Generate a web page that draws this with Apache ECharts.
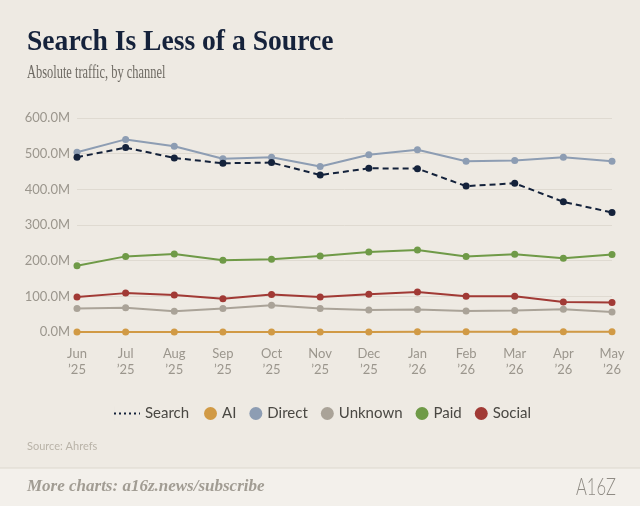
<!DOCTYPE html>
<html>
<head>
<meta charset="utf-8">
<script src="https://cdn.jsdelivr.net/npm/echarts@6/dist/echarts.min.js"></script>
<style>
    html, body { margin: 0; padding: 0; background: #eeeae3; }
    #chart { width: 640px; height: 506px; }
</style>
</head>
<body>
<div id="chart"></div>
<script>
var months = ['Jun\n\u201925', 'Jul\n\u201925', 'Aug\n\u201925', 'Sep\n\u201925', 'Oct\n\u201925', 'Nov\n\u201925',
    'Dec\n\u201925', 'Jan\n\u201926', 'Feb\n\u201926', 'Mar\n\u201926', 'Apr\n\u201926', 'May\n\u201926'];
var searchData = [490, 517, 488, 473, 475, 440, 459, 458, 409, 417, 365, 335];
var aiData = [0.3, 0.3, 0.3, 0.3, 0.3, 0.3, 0.3, 0.4, 0.4, 0.4, 0.5, 0.5];
var directData = [504, 540, 521, 486, 490, 464, 497, 511, 479, 481, 490, 479];
var unknownData = [66, 68, 58, 66, 75, 66, 62, 63, 59, 60, 64, 56];
var paidData = [186, 212, 219, 201, 204, 213, 224, 230, 212, 218, 207, 217];
var socialData = [98, 109, 104, 93, 105, 98, 106, 112, 100, 100, 84, 83];

var colors = {
    Search: '#14223b',
    AI: '#d19a45',
    Direct: '#8d9db3',
    Unknown: '#aaa398',
    Paid: '#6f9a47',
    Social: '#a13a35'
};

var sansFont = 'Lato, "Open Sans", sans-serif';
var serifFont = '"Liberation Serif", "DejaVu Serif", serif';

var lineSeries = function(name, data, dashed) {
    return {
        name: name,
        type: 'line',
        data: data,
        symbol: 'circle',
        symbolSize: 7,
        z: dashed ? 5 : 3,
        lineStyle: {
            color: colors[name],
            width: 2,
            type: dashed ? [6, 4] : 'solid'
        },
        itemStyle: { color: colors[name] }
    };
};

var chart = echarts.init(document.getElementById('chart'));
var option = {
    backgroundColor: '#eeeae3',
    animation: false,
    grid: {
        left: 77,
        right: 28,
        top: 118,
        bottom: 174
    },
    legend: [{
        left: 109,
        top: 401,
        itemWidth: 26,
        itemHeight: 14,
        textStyle: { color: '#4a4843', fontSize: 15, fontFamily: sansFont },
        data: [{
            name: 'Search',
            icon: 'path://M0,6h2v2h-2z M5,6h2v2h-2z M10,6h2v2h-2z M15,6h2v2h-2z M20,6h2v2h-2z M25,6h1v2h-1z M0,0h0.01v14h-0.01z'
        }],
        itemStyle: { color: colors.Search }
    }, {
        left: 199,
        top: 401,
        itemWidth: 13,
        itemHeight: 13,
        itemGap: 13,
        icon: 'circle',
        textStyle: { color: '#4a4843', fontSize: 15, fontFamily: sansFont },
        data: ['AI', 'Direct', 'Unknown', 'Paid', 'Social']
    }],
    xAxis: {
        type: 'category',
        boundaryGap: false,
        data: months,
        axisLine: { show: false },
        axisTick: { show: false },
        axisLabel: {
            color: '#9b968d',
            fontSize: 13,
            fontFamily: sansFont,
            lineHeight: 16,
            margin: 14
        }
    },
    yAxis: {
        type: 'value',
        min: 0,
        max: 600,
        interval: 100,
        axisLabel: {
            color: '#9b968d',
            fontSize: 13,
            fontFamily: sansFont,
            margin: 7,
            formatter: function(v) { return v.toFixed(1) + 'M'; }
        },
        splitLine: { lineStyle: { color: '#dfdad1', width: 1 } }
    },
    series: [
        lineSeries('Search', searchData, true),
        lineSeries('AI', aiData),
        lineSeries('Direct', directData),
        lineSeries('Unknown', unknownData),
        lineSeries('Paid', paidData),
        lineSeries('Social', socialData)
    ],
    graphic: [{
        type: 'text',
        left: 27,
        top: 27,
        scaleX: 0.92,
        style: {
            text: 'Search Is Less of a Source',
            fill: '#15223b',
            font: 'bold 30px ' + serifFont
        }
    }, {
        type: 'text',
        left: 27,
        top: 64,
        scaleX: 0.69,
        style: {
            text: 'Absolute traffic, by channel',
            fill: '#6e6a63',
            font: '18px ' + serifFont
        }
    }, {
        type: 'text',
        left: 27,
        top: 441,
        style: {
            text: 'Source: Ahrefs',
            fill: '#b9b3a8',
            font: '11px ' + sansFont
        }
    }, {
        type: 'rect',
        shape: { x: 0, y: 468, width: 640, height: 38 },
        style: { fill: '#f3f0eb' },
        z: -1
    }, {
        type: 'line',
        shape: { x1: 0, y1: 468, x2: 640, y2: 468 },
        style: { stroke: '#ddd8ce', lineWidth: 1 }
    }, {
        type: 'text',
        left: 27,
        top: 478,
        style: {
            text: 'More charts: a16z.news/subscribe',
            fill: '#a19c93',
            font: 'italic bold 17px ' + serifFont
        }
    }, {
        type: 'text',
        left: 576,
        top: 476,
        scaleX: 0.72,
        style: {
            text: 'A16Z',
            fill: '#8f8b84',
            font: '300 23px ' + sansFont
        }
    }]
};
chart.setOption(option);
</script>
</body>
</html>
